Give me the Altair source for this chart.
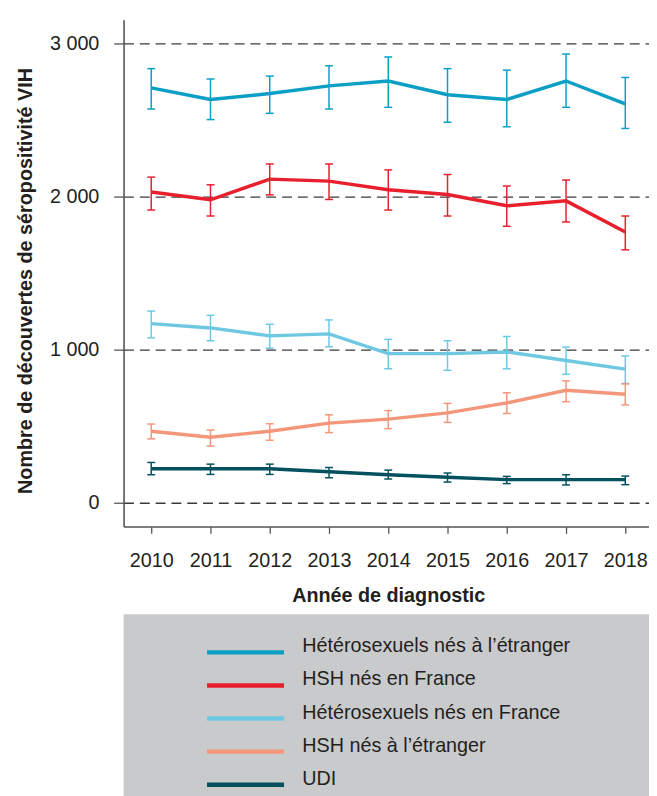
import altair as alt
import pandas as pd

years = [2010, 2011, 2012, 2013, 2014, 2015, 2016, 2017, 2018]
groups = [
    "Hétérosexuels nés à l’étranger",
    "HSH nés en France",
    "Hétérosexuels nés en France",
    "HSH nés à l’étranger",
    "UDI",
]
colors = ["#0b9fc6", "#e8202e", "#6ec8e2", "#f4967a", "#03505f"]

het_etr = [2710, 2634, 2673, 2723, 2755, 2665, 2634, 2755, 2606]
het_etr_lo = [2572, 2503, 2544, 2572, 2583, 2486, 2456, 2583, 2445]
het_etr_hi = [2836, 2768, 2787, 2854, 2912, 2836, 2826, 2931, 2778]

hsh_fr = [2030, 1979, 2114, 2101, 2045, 2013, 1940, 1972, 1768]
hsh_fr_lo = [1912, 1873, 2011, 1981, 1912, 1873, 1806, 1834, 1652]
hsh_fr_hi = [2127, 2077, 2213, 2213, 2174, 2144, 2069, 2108, 1873]

het_fr = [1170, 1142, 1090, 1103, 974, 974, 985, 929, 873]
het_fr_lo = [1077, 1058, 1009, 1019, 875, 865, 875, 839, 779]
het_fr_hi = [1252, 1224, 1166, 1194, 1067, 1058, 1086, 1017, 959]

hsh_etr = [467, 428, 467, 520, 546, 587, 652, 734, 708]
hsh_etr_lo = [417, 370, 408, 458, 484, 525, 583, 660, 639]
hsh_etr_hi = [514, 475, 516, 574, 602, 649, 718, 796, 776]

udi = [222, 222, 222, 202, 183, 166, 151, 151, 151]
udi_lo = [183, 185, 185, 163, 155, 135, 125, 116, 118]
udi_hi = [263, 252, 252, 230, 213, 194, 172, 183, 174]

y_ticks = [0, 1000, 2000, 3000]

series = [
    (het_etr, het_etr_lo, het_etr_hi),
    (hsh_fr, hsh_fr_lo, hsh_fr_hi),
    (het_fr, het_fr_lo, het_fr_hi),
    (hsh_etr, hsh_etr_lo, hsh_etr_hi),
    (udi, udi_lo, udi_hi),
]
rows = []
for g, (v, lo, hi) in zip(groups, series):
    for i, yr in enumerate(years):
        rows.append({"annee": yr, "groupe": g, "valeur": v[i], "bas": lo[i], "haut": hi[i]})
df = pd.DataFrame(rows)

FONT = "Liberation Sans, Arial, sans-serif"
TXT = "#231f20"
FS = 20

x = alt.X(
    "annee:Q",
    scale=alt.Scale(domain=[2009.533, 2018.4], nice=False, zero=False),
    axis=alt.Axis(
        values=years, format="d", grid=False, tickSize=7, tickWidth=1.3, tickColor="#555555",
        labelFontSize=FS, labelBaseline="alphabetic", labelPadding=34, labelFlush=False,
        title="Année de diagnostic", titleFontSize=FS, titleFontWeight="bold",
        titleX=268, titleY=76, titleAlign="center", titleBaseline="alphabetic",
    ),
)
y_axis = alt.Axis(
    values=y_ticks, grid=True, gridDash=[10, 6], gridColor="#3a3a3a", gridWidth=1.3,
    tickSize=10, tickWidth=1.3, tickColor="#555555",
    labelFontSize=FS, labelPadding=15, labelBaseline="middle",
    labelExpr="replace(format(datum.value, ','), ',', ' ')",
    title="Nombre de découvertes de séropositivité VIH", titleFontSize=FS, titleFontWeight="bold",
    titleAngle=270, titleX=-93, titleY=264, titleAlign="center", titleBaseline="alphabetic",
)
yscale = alt.Scale(domain=[-155, 3155], nice=False, zero=False)

color = alt.Color(
    "groupe:N",
    scale=alt.Scale(domain=groups, range=colors),
    legend=alt.Legend(
        title="\u00a0", titleOrient="right", titlePadding=75, titleFontSize=4,
        orient="none", legendX=0, legendY=602, direction="vertical",
        fillColor="#c9cacc", strokeColor="#c9cacc", padding=22,
        symbolType="stroke", symbolSize=6084, symbolStrokeWidth=4.5, symbolOpacity=1,
        clipHeight=33, rowPadding=0.5, symbolOffset=60, labelOffset=16,
        labelFont=FONT, labelFontSize=FS, labelColor=TXT, labelLimit=2000,
        labelBaseline="alphabetic",
    ),
)

base = alt.Chart(df)
lines = base.mark_line(strokeWidth=3.5).encode(
    x=x, y=alt.Y("valeur:Q", scale=yscale, axis=y_axis), color=color
)
bars = base.mark_rule(strokeWidth=1.5).encode(
    x="annee:Q", y="bas:Q", y2="haut:Q", color=alt.Color("groupe:N")
)
cap_lo = base.mark_tick(orient="horizontal", size=8, thickness=1.5, opacity=1).encode(
    x="annee:Q", y="bas:Q", color=alt.Color("groupe:N")
)
cap_hi = base.mark_tick(orient="horizontal", size=8, thickness=1.5, opacity=1).encode(
    x="annee:Q", y="haut:Q", color=alt.Color("groupe:N")
)

chart = (
    alt.layer(lines, bars, cap_lo, cap_hi)
    .properties(
        width=532, height=513,
        autosize=alt.AutoSizeParams(type="none"),
        padding={"left": 117, "top": 7, "right": 0, "bottom": 268},
        background="white",
    )
    .configure_view(stroke=None)
    .configure_axis(
        labelFont=FONT, titleFont=FONT, labelColor=TXT, titleColor=TXT,
        domainColor="#555555", domainWidth=1.6,
    )
)

chart.save("out.html", embed_options={"renderer": "svg", "actions": False})
